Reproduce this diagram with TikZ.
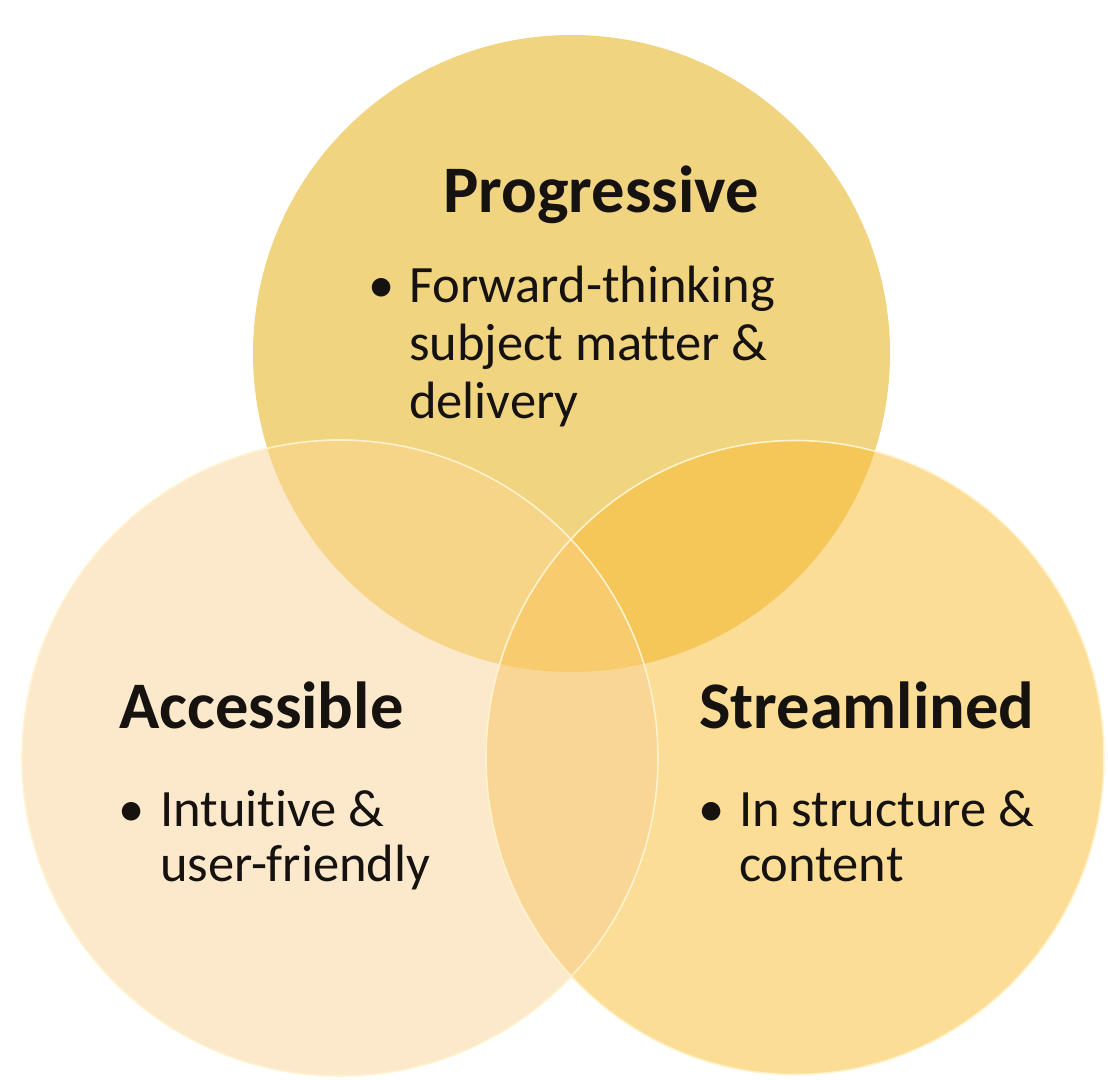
\documentclass[tikz,border=0pt]{standalone}
\usepackage{fontspec}
\setmainfont{Carlito}[Ligatures=NoCommon]
\definecolor{cTop}{HTML}{F0D480}
\definecolor{cLeft}{HTML}{FCE9CC}
\definecolor{cRight}{HTML}{FBDD96}
\definecolor{cTL}{HTML}{F6D588}
\definecolor{cTR}{HTML}{F5C658}
\definecolor{cLR}{HTML}{FAD696}
\definecolor{cMid}{HTML}{F7CB6E}
\definecolor{cLine}{HTML}{FFF2CC}
\definecolor{cText}{HTML}{151210}
\tikzset{
  ttl/.style={anchor=base west, inner sep=0pt, text=cText, font=\fontsize{66.5}{72}\selectfont\bfseries},
  bod/.style={anchor=base west, inner sep=0pt, text=cText, font=\fontsize{52.5}{58}\selectfont},
  bul/.style={anchor=base, inner sep=0pt, text=cText, font=\fontsize{52.5}{58}\selectfont},
  topc/.style={insert path={(ct) circle [radius=318.5]}},
  leftc/.style={insert path={(cl) circle [radius=318]}},
  rightc/.style={insert path={(cr) ellipse [x radius=309, y radius=317]}},
}
\begin{document}
\begin{tikzpicture}[x=1pt,y=-1pt]
\useasboundingbox (0,0) rectangle (1108,1079);
\coordinate (ct) at (571.5,353.5);
\coordinate (cl) at (340,758);
\coordinate (cr) at (795,757.5);
% base fills
\fill[cLeft, leftc];
\fill[cRight, rightc];
\fill[cTop, topc];
% pairwise overlaps
\begin{scope}
  \clip[topc];
  \fill[cTL, leftc];
  \fill[cTR, rightc];
\end{scope}
\begin{scope}
  \clip[leftc];
  \fill[cLR, rightc];
\end{scope}
% centre
\begin{scope}
  \clip[topc];
  \clip[leftc];
  \fill[cMid, rightc];
\end{scope}
% light outlines
\draw[cLine, line width=1.6, leftc];
\draw[cLine, line width=1.6, rightc];
% texts
\node[ttl] (ptitle) at (443,212) {Progressive};
\node[bul] (pbul) at (382,302) {•};
\node[bod] (p1) at (409,302) {Forward-thinking};
\node[bod] (p2) at (409,360) {subject matter \&};
\node[bod] (p3) at (409,418) {delivery};
\node[ttl] (atitle) at (119,728) {Accessible};
\node[bul] (abul) at (132,826) {•};
\node[bod] (a1) at (160,826) {Intuitive \&};
\node[bod] (a2) at (160,881) {user-friendly};
\node[ttl] (stitle) at (699,728) {Streamlined};
\node[bul] (sbul) at (712,826) {•};
\node[bod] (s1) at (739,826) {In structure \&};
\node[bod] (s2) at (739,881) {content};
\end{tikzpicture}
\end{document}
